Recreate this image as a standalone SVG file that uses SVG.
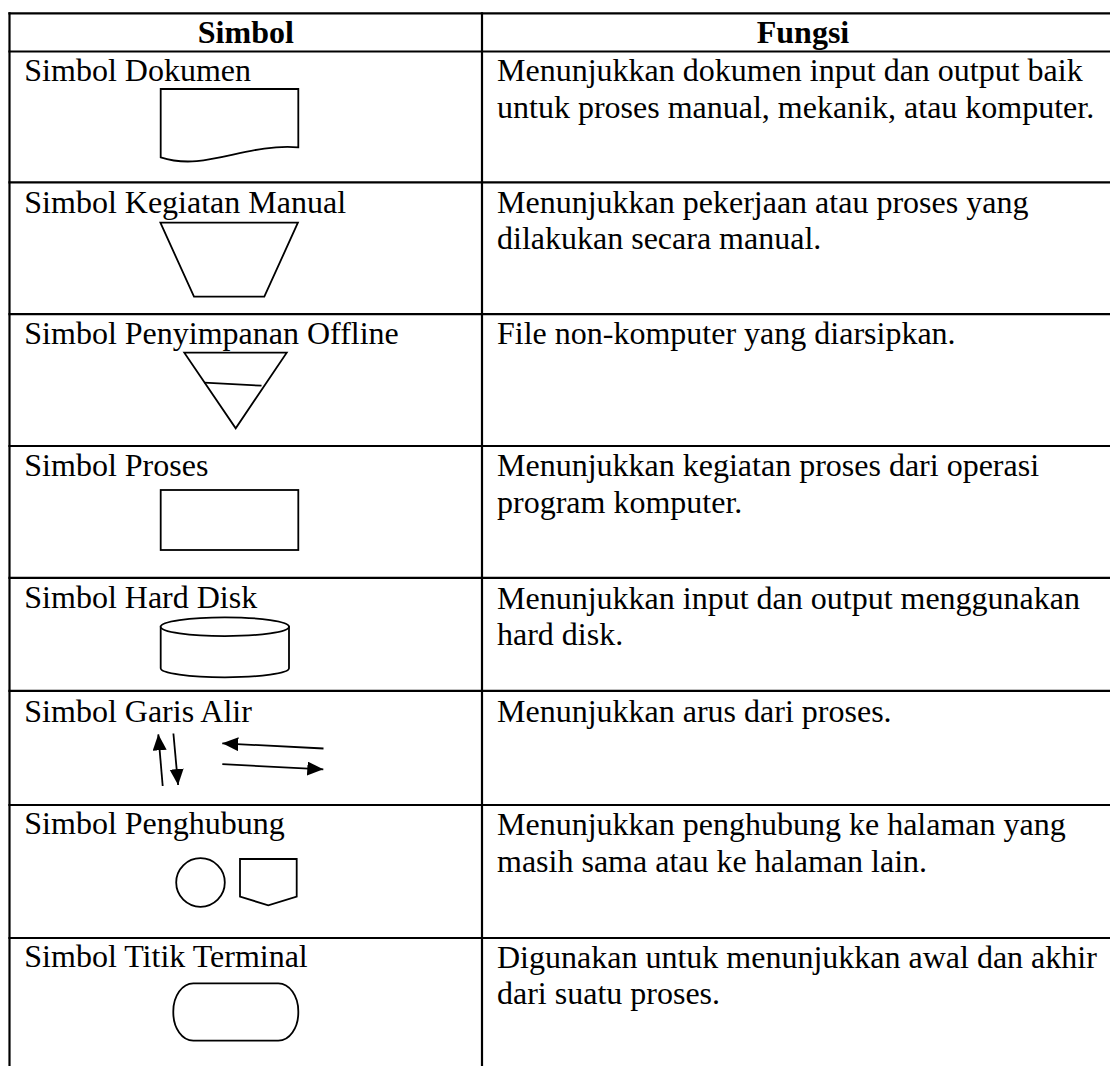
<svg xmlns="http://www.w3.org/2000/svg" width="1110" height="1066" viewBox="0 0 1110 1066">
  <style>
    .grid { stroke: #000; stroke-width: 2.2; fill: none; }
    .shape { stroke: #000; stroke-width: 1.8; fill: #fff; }
    .ln { stroke: #000; stroke-width: 1.8; fill: none; }
    .t { font-family: "Liberation Serif", "Times New Roman", serif; font-size: 32px; fill: #000; }
    .h { font-family: "Liberation Serif", "Times New Roman", serif; font-size: 32px; font-weight: bold; fill: #000; text-anchor: middle; }
  </style>
  <defs>
    <marker id="ah" markerUnits="userSpaceOnUse" markerWidth="17" markerHeight="15" refX="16" refY="7" orient="auto">
      <path d="M0,0 L16,7 L0,14 z" fill="#000"/>
    </marker>
  </defs>
  <rect x="0" y="0" width="1110" height="1066" fill="#fff"/>

  <g id="table-grid" class="grid">
    <line x1="8.4" y1="13.3" x2="1110" y2="13.3"/>
    <line x1="8.4" y1="51.5" x2="1110" y2="51.5"/>
    <line x1="8.4" y1="182.3" x2="1110" y2="182.3"/>
    <line x1="8.4" y1="314.2" x2="1110" y2="314.2"/>
    <line x1="8.4" y1="446" x2="1110" y2="446"/>
    <line x1="8.4" y1="577.8" x2="1110" y2="577.8"/>
    <line x1="8.4" y1="690.8" x2="1110" y2="690.8"/>
    <line x1="8.4" y1="805" x2="1110" y2="805"/>
    <line x1="8.4" y1="938" x2="1110" y2="938"/>
    <line x1="9.5" y1="12.2" x2="9.5" y2="1066"/>
    <line x1="482" y1="12.2" x2="482" y2="1066"/>
  </g>

  <g id="header">
    <text class="h" x="245.8" y="42.7">Simbol</text>
    <text class="h" x="803" y="42.7">Fungsi</text>
  </g>

  <g id="row-dokumen">
    <text class="t" x="24.3" y="81">Simbol Dokumen</text>
    <path class="shape" d="M160.7,89 H298.3 V147.3 C245,143 205,172 160.7,157.3 Z"/>
    <text class="t" x="497" y="81">Menunjukkan dokumen input dan output baik</text>
    <text class="t" x="497" y="117.5">untuk proses manual, mekanik, atau komputer.</text>
  </g>

  <g id="row-kegiatan-manual">
    <text class="t" x="24.3" y="212.5">Simbol Kegiatan Manual</text>
    <polygon class="shape" points="160.4,222.7 297.9,222.7 264.3,296.7 194,296.7"/>
    <text class="t" x="497" y="212.5">Menunjukkan pekerjaan atau proses yang</text>
    <text class="t" x="497" y="249">dilakukan secara manual.</text>
  </g>

  <g id="row-penyimpanan-offline">
    <text class="t" x="24.3" y="344">Simbol Penyimpanan Offline</text>
    <polygon class="shape" points="184.3,352.7 286.7,352.7 235.7,428.3"/>
    <line class="ln" x1="204.3" y1="382.7" x2="261.5" y2="385.7"/>
    <text class="t" x="497" y="344">File non-komputer yang diarsipkan.</text>
  </g>

  <g id="row-proses">
    <text class="t" x="24.3" y="476">Simbol Proses</text>
    <rect class="shape" x="160.7" y="490" width="137.6" height="60"/>
    <text class="t" x="497" y="476">Menunjukkan kegiatan proses dari operasi</text>
    <text class="t" x="497" y="512.5">program komputer.</text>
  </g>

  <g id="row-hard-disk">
    <text class="t" x="24.3" y="608">Simbol Hard Disk</text>
    <path class="shape" d="M160.7,626.7 V668.3 A64.15,9 0 0 0 289,668.3 V626.7 Z"/>
    <ellipse class="shape" cx="224.85" cy="626.7" rx="64.15" ry="9.4"/>
    <text class="t" x="497" y="608.5">Menunjukkan input dan output menggunakan</text>
    <text class="t" x="497" y="644.5">hard disk.</text>
  </g>

  <g id="row-garis-alir">
    <text class="t" x="24.3" y="721.7">Simbol Garis Alir</text>
    <g id="flow-arrows" class="ln">
      <line x1="162.7" y1="786" x2="158.3" y2="734.3" marker-end="url(#ah)"/>
      <line x1="173.4" y1="733.5" x2="178.1" y2="785" marker-end="url(#ah)"/>
      <line x1="323.5" y1="748.5" x2="222.3" y2="743.3" marker-end="url(#ah)"/>
      <line x1="222.3" y1="764.2" x2="323.3" y2="769.3" marker-end="url(#ah)"/>
    </g>
    <text class="t" x="497" y="721.7">Menunjukkan arus dari proses.</text>
  </g>

  <g id="row-penghubung">
    <text class="t" x="24.3" y="834">Simbol Penghubung</text>
    <circle class="shape" cx="200.5" cy="882.5" r="24.3"/>
    <polygon class="shape" points="240,859 296.7,859 296.7,896.7 268.3,905.3 240,896.7"/>
    <text class="t" x="497" y="835">Menunjukkan penghubung ke halaman yang</text>
    <text class="t" x="497" y="871.5">masih sama atau ke halaman lain.</text>
  </g>

  <g id="row-titik-terminal">
    <text class="t" x="24.3" y="967">Simbol Titik Terminal</text>
    <rect class="shape" x="173.3" y="983.3" width="125" height="57.4" rx="20" ry="28"/>
    <text class="t" x="497" y="967.5">Digunakan untuk menunjukkan awal dan akhir</text>
    <text class="t" x="497" y="1004">dari suatu proses.</text>
  </g>
</svg>
